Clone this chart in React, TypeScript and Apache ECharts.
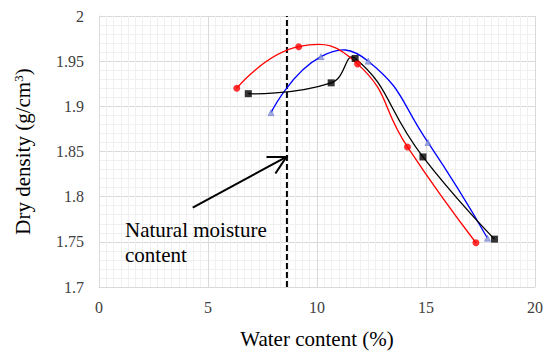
import React, { useEffect, useRef } from "react";
import * as echarts from "echarts";

// Water content (%) vs dry density (g/cm3)
const redSeries: [number, number][] = [
  [6.32, 1.92],
  [9.16, 1.966],
  [11.86, 1.947],
  [14.15, 1.855],
  [17.29, 1.749],
];
const blackSeries: [number, number][] = [
  [6.85, 1.914],
  [10.65, 1.926],
  [11.75, 1.953],
  [14.86, 1.844],
  [18.14, 1.753],
];
const blueSeries: [number, number][] = [
  [7.89, 1.893],
  [10.18, 1.955],
  [12.35, 1.95],
  [15.09, 1.86],
  [17.82, 1.754],
];
const naturalMoisture = 8.62;
const arrowFrom: [number, number] = [4.3, 1.788];
const arrowTo: [number, number] = [8.6, 1.844];
const annotationText = "Natural moisture\ncontent";

const xTicks = { min: 0, max: 20, interval: 5 };
const yTicks = { min: 1.7, max: 2, interval: 0.05 };

const FONT = "Liberation Serif";

// Smooth curve (cardinal-like bezier) drawn through the chart's own coordinate system.
function smoothSeries(points: [number, number][], color: string, z: number) {
  const SMOOTH = 0.5;
  return {
    type: "custom",
    data: points,
    encode: { x: 0, y: 1 },
    z,
    silent: true,
    renderItem: (params: any, api: any) => {
      const i = params.dataIndex;
      if (i >= points.length - 1) return null;
      const P = (k: number) => {
        const kk = Math.max(0, Math.min(points.length - 1, k));
        return api.coord(points[kk]) as number[];
      };
      const p0 = P(i - 1);
      const p1 = P(i);
      const p2 = P(i + 1);
      const p3 = P(i + 2);
      const dist = (a: number[], b: number[]) => Math.hypot(a[0] - b[0], a[1] - b[1]);
      const dPrev = dist(p0, p1);
      const dCur = dist(p1, p2);
      const dNext = dist(p2, p3);
      let c1 = p1;
      if (i > 0 && dPrev + dCur > 0) {
        const r = (SMOOTH * dCur) / (dPrev + dCur);
        c1 = [p1[0] + (p2[0] - p0[0]) * r, p1[1] + (p2[1] - p0[1]) * r];
      }
      let c2 = p2;
      if (i + 1 < points.length - 1 && dCur + dNext > 0) {
        const r = (SMOOTH * dCur) / (dCur + dNext);
        c2 = [p2[0] - (p3[0] - p1[0]) * r, p2[1] - (p3[1] - p1[1]) * r];
      }
      return {
        type: "bezierCurve",
        shape: {
          x1: p1[0],
          y1: p1[1],
          x2: p2[0],
          y2: p2[1],
          cpx1: c1[0],
          cpy1: c1[1],
          cpx2: c2[0],
          cpy2: c2[1],
        },
        style: { stroke: color, lineWidth: 1.3, fill: "none" },
      };
    },
  };
}

export default function App() {
  const ref = useRef<HTMLDivElement>(null);
  useEffect(() => {
    if (!ref.current) return;
    const chart = echarts.init(ref.current, undefined, { renderer: "svg" });
    const axisCommon = {
      axisLine: { show: true, lineStyle: { color: "#d9d9d9", width: 1 } },
      axisTick: { show: false },
      splitLine: { show: true, lineStyle: { color: "#d9d9d9", width: 1 } },
      minorSplitLine: { show: true, lineStyle: { color: "#f0f0f0", width: 1 } },
    };
    chart.setOption({
      animation: false,
      backgroundColor: "#ffffff",
      grid: { left: 99, right: 7, top: 16, bottom: 67, containLabel: false },
      xAxis: {
        type: "value",
        ...xTicks,
        ...axisCommon,
        minorTick: { show: false, splitNumber: 15 },
        axisLabel: {
          fontFamily: FONT,
          fontSize: 16,
          color: "#404040",
          margin: 12,
          formatter: (v: number) => String(v),
        },
        name: "Water content (%)",
        nameLocation: "middle",
        nameGap: 41,
        nameTextStyle: { fontFamily: FONT, fontSize: 21, color: "#000" },
      },
      yAxis: {
        type: "value",
        ...yTicks,
        ...axisCommon,
        minorTick: { show: false, splitNumber: 5 },
        axisLabel: {
          fontFamily: FONT,
          fontSize: 16,
          color: "#404040",
          margin: 15,
          formatter: (v: number) => String(Math.round(v * 100) / 100),
        },
        name: "Dry density (g/cm{sup|3})",
        nameLocation: "middle",
        nameRotate: 90,
        nameGap: 66,
        nameTextStyle: {
          fontFamily: FONT,
          fontSize: 21,
          color: "#000",
          rich: {
            sup: { fontFamily: FONT, fontSize: 13, verticalAlign: "top", lineHeight: 21, color: "#000" },
          },
        },
      },
      series: [
        {
          type: "line",
          data: [
            [naturalMoisture, yTicks.min],
            [naturalMoisture, yTicks.max],
          ],
          symbol: "none",
          lineStyle: { color: "#000", width: 2, type: [6, 3] },
          z: 1,
        },
        smoothSeries(blueSeries, "#0000ff", 3),
        smoothSeries(blackSeries, "#000000", 4),
        smoothSeries(redSeries, "#ff0000", 5),
        {
          type: "scatter",
          data: blueSeries,
          symbol: "triangle",
          symbolSize: 6,
          itemStyle: { color: "#8f9ad0", borderColor: "#3a50d8", borderWidth: 0.5 },
          z: 6,
        },
        {
          type: "scatter",
          data: blackSeries,
          symbol: "rect",
          symbolSize: 7,
          itemStyle: { color: "#000" },
          z: 7,
        },
        {
          type: "scatter",
          data: redSeries,
          symbol: "circle",
          symbolSize: 7,
          itemStyle: { color: "#ff0000" },
          z: 8,
        },
        {
          type: "custom",
          data: [[arrowFrom[0], arrowFrom[1], arrowTo[0], arrowTo[1]]],
          encode: { x: [0, 2], y: [1, 3] },
          z: 9,
          silent: true,
          renderItem: (_params: any, api: any) => {
            const p0 = api.coord([api.value(0), api.value(1)]);
            const p1 = api.coord([api.value(2), api.value(3)]);
            const ang = Math.atan2(p1[1] - p0[1], p1[0] - p0[0]);
            const back = ang + Math.PI;
            const headLen = 20;
            const spread = (28 * Math.PI) / 180;
            const a1 = [p1[0] + headLen * Math.cos(back + spread), p1[1] + headLen * Math.sin(back + spread)];
            const a2 = [p1[0] + headLen * Math.cos(back - spread), p1[1] + headLen * Math.sin(back - spread)];
            return {
              type: "group",
              children: [
                {
                  type: "line",
                  shape: { x1: p0[0], y1: p0[1], x2: p1[0], y2: p1[1] },
                  style: { stroke: "#000", lineWidth: 2 },
                },
                {
                  type: "polyline",
                  shape: { points: [a1, p1, a2] },
                  style: { stroke: "#000", lineWidth: 2, fill: "none" },
                },
              ],
            };
          },
        },
      ],
      graphic: [
        {
          type: "text",
          left: 125,
          top: 217,
          style: {
            text: annotationText,
            fontFamily: FONT,
            fontSize: 21,
            fill: "#000",
            lineHeight: 25,
          },
          z: 10,
        },
      ],
    });
    return () => chart.dispose();
  }, []);
  return <div ref={ref} style={{ width: 546, height: 354, position: "absolute", left: 0, top: 0 }} />;
}
